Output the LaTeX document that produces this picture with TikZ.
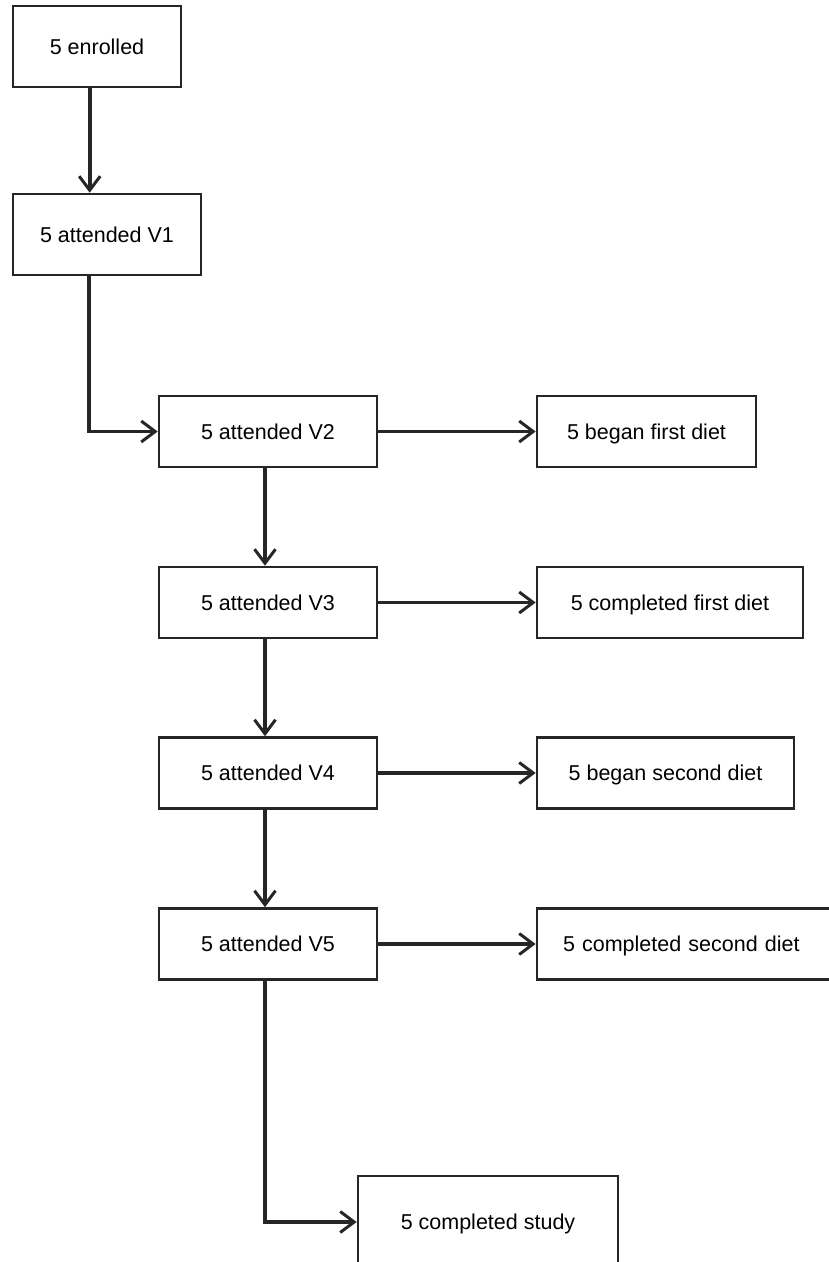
\documentclass[tikz,border=0pt]{standalone}
\usepackage{fontspec}
\setmainfont{Liberation Sans}
\usetikzlibrary{arrows.meta}
\begin{document}
\begin{tikzpicture}[x=1pt,y=-1pt,
    box/.style={draw=black!85,line width=2.6pt,minimum height=71pt,inner sep=0pt,text height=15pt,text depth=0pt,font=\fontsize{21.5}{25}\selectfont},
    flow/.style={draw=black!85,line width=3.6pt,-{Straight Barb[length=14pt,width=21pt,line width=3pt]}}]
    \clip (0,0) rectangle (829,1262);
    \node[box,minimum width=168pt,minimum height=81pt] (enrolled) at (97,46.5) {5 enrolled};
    \node[box,minimum width=188pt,minimum height=81pt] (v1) at (107,234.5) {5 attended V1};
    \node[box,minimum width=218pt] (v2) at (268,431.5) {5 attended V2};
    \node[box,minimum width=218pt] (v3) at (268,602.5) {5 attended V3};
    \node[box,minimum width=218pt] (v4) at (268,773) {5 attended V4};
    \node[box,minimum width=218pt] (v5) at (268,944) {5 attended V5};
    \node[box,minimum width=219pt] (d1) at (646.5,431.5) {5 began first diet};
    \node[box,minimum width=266pt] (d2) at (670,602.5) {5 completed first diet};
    \node[box,minimum width=257pt] (d3) at (665.5,773) {5 began second diet};
    \node[box,minimum width=300pt,text width=248pt,inner xsep=26pt,align=left] (d4) at (687,944) {5 completed second diet};
    \node[box,minimum width=260pt,minimum height=92pt] (study) at (488,1222) {5 completed study};
    \coordinate (e1) at ([xshift=78pt]enrolled.south west);
    \draw[flow] (e1) -- (e1 |- v1.north);
    \draw[flow] ([xshift=77pt]v1.south west) |- (v2.west);
    \foreach \a/\b in {v2/v3,v3/v4,v4/v5}
        \draw[flow] ([xshift=-3pt]\a.south) -- ([xshift=-3pt]\b.north);
    \foreach \a/\b in {v2/d1,v3/d2,v4/d3,v5/d4}
        \draw[flow] (\a.east) -- (\b.west);
    \draw[flow] ([xshift=-3pt]v5.south) |- (study.west);
\end{tikzpicture}
\end{document}
